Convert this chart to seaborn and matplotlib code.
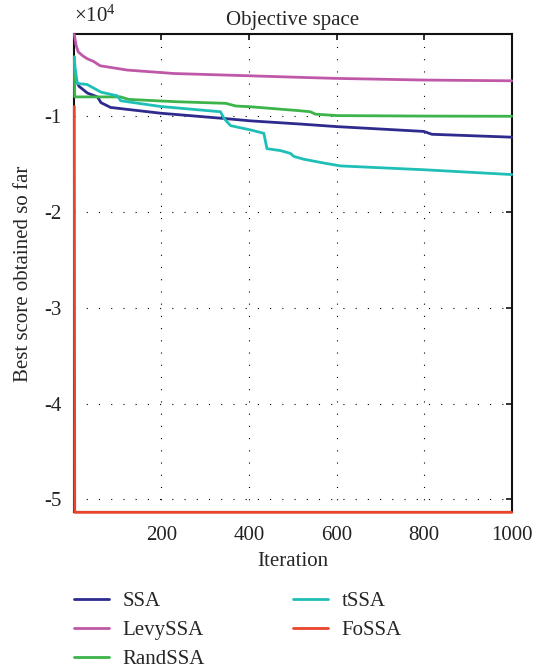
import numpy as np
import pandas as pd
import matplotlib
matplotlib.use("Agg")
import matplotlib.pyplot as plt
from matplotlib.ticker import MultipleLocator, FuncFormatter
import seaborn as sns

# ---- data ----
ssa_iter = [1, 5, 12, 31, 54, 62, 84, 198, 343, 404, 517, 601, 799, 818, 1000]
ssa_val = [-5800, -6300, -6900, -7600, -8000, -8600, -9100, -9700, -10250,
           -10500, -10830, -11100, -11600, -11900, -12200]

levy_iter = [1, 5, 10, 20, 30, 45, 60, 122, 229, 404, 517, 601, 800, 1000]
levy_val = [-1470, -2600, -3300, -3700, -4000, -4300, -4750, -5200, -5560,
            -5800, -5960, -6070, -6240, -6320]

rand_iter = [1, 2, 107, 125, 233, 347, 370, 404, 518, 540, 552, 601, 800, 1000]
rand_val = [-3800, -8000, -8000, -8260, -8500, -8670, -8950, -9030, -9450,
            -9550, -9800, -9950, -10000, -10020]

t_iter = [1, 3, 8, 30, 46, 62, 100, 107, 198, 335, 343, 358, 404, 434, 441,
          472, 495, 502, 525, 571, 609, 800, 1000]
t_val = [-3900, -5000, -6600, -6700, -7100, -7500, -7900, -8400, -9000, -9550,
         -10250, -11000, -11450, -11800, -13400, -13600, -13900, -14200,
         -14500, -14900, -15200, -15600, -16100]

fo_iter = [1, 2, 1000]
fo_val = [-9000, -51340, -51340]

names = ["SSA", "LevySSA", "RandSSA", "tSSA", "FoSSA"]
colors = ["#2e2a8e", "#c058a8", "#3cb44a", "#1fbfb8", "#e8452c"]

frames = []
for n, it, v in zip(names,
                    [ssa_iter, levy_iter, rand_iter, t_iter, fo_iter],
                    [ssa_val, levy_val, rand_val, t_val, fo_val]):
    frames.append(pd.DataFrame({"Iteration": it, "Score": v, "Algorithm": n}))
df = pd.concat(frames, ignore_index=True)

sns.set_style("white")
plt.rcParams["font.family"] = ["Liberation Serif", "DejaVu Serif"]
plt.rcParams["axes.unicode_minus"] = False
plt.rcParams["mathtext.fontset"] = "custom"
plt.rcParams["mathtext.rm"] = "Liberation Serif"
plt.rcParams["mathtext.it"] = "Liberation Serif:italic"

FS = 15

fig = plt.figure(figsize=(5.43, 6.69), dpi=100)
ax = fig.add_axes([0.1368, 0.2342, 0.9423 - 0.1368, 0.9487 - 0.2342])

sns.lineplot(data=df, x="Iteration", y="Score", hue="Algorithm",
             hue_order=names, palette=dict(zip(names, colors)),
             estimator=None, sort=False, linewidth=2.0, ax=ax, legend=True)
for ln in ax.lines:
    ln.set_clip_on(False)
    ln.set_zorder(3)

ax.set_xlim(1, 1000)
ax.set_ylim(-51340, -1470)
ax.xaxis.set_major_locator(MultipleLocator(200))
ax.yaxis.set_major_locator(MultipleLocator(10000))
ax.yaxis.set_major_formatter(FuncFormatter(lambda v, p: f"{v / 1e4:g}"))
ax.text(0.0, 1.015, r"$\times10^{4}$", transform=ax.transAxes,
        fontsize=FS, ha="left", va="bottom", color="#222222")

ax.grid(True, linestyle=(0, (1, 10)), linewidth=0.8, color="black")
for s in ax.spines.values():
    s.set_color("#111111")
    s.set_linewidth(1.5)
ax.tick_params(direction="in", length=4, width=1.3, labelsize=FS,
               top=True, right=True, colors="#222222")
ax.tick_params(axis="x", pad=10)
ax.tick_params(axis="y", pad=9)

ax.set_title("Objective space", fontsize=FS, pad=7)
ax.set_xlabel("Iteration", fontsize=FS, labelpad=5)
ax.set_ylabel("Best score obtained so far", fontsize=FS, labelpad=8)

handles, labels = ax.get_legend_handles_labels()
ax.get_legend().remove()
fig.legend(handles, labels, loc="upper left", bbox_to_anchor=(0.136, 0.116),
           ncol=2, frameon=False, fontsize=FS, handlelength=1.7,
           handletextpad=0.65, columnspacing=4.2, labelspacing=0.46,
           borderpad=0, borderaxespad=0)

fig.savefig("out.png", dpi=100)
